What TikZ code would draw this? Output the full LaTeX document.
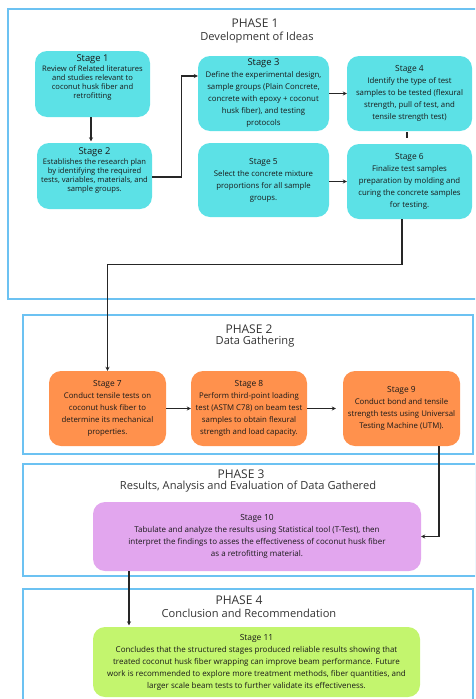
\documentclass[tikz,border=0pt]{standalone}
\usepackage{fontspec}
\setmainfont{Open Sans}
\usepackage{xcolor}
\usetikzlibrary{arrows.meta}

\definecolor{phaseblue}{HTML}{6CC2F2}
\definecolor{stagecyan}{HTML}{5CE1E6}
\definecolor{stageorange}{HTML}{FF914D}
\definecolor{stagepurple}{HTML}{E2A6EE}
\definecolor{stagegreen}{HTML}{C3F56E}

\newcommand{\stagehead}[1]{{\fontsize{9.4}{11}\selectfont #1}}
\newcommand{\smallhead}[1]{{\fontsize{8.4}{11}\selectfont #1}}

\begin{document}
\begin{tikzpicture}[x=1pt,y=-1pt,
    phase/.style={draw=phaseblue,line width=1.3pt},
    phasetitle/.style={font=\fontsize{12}{14}\selectfont,text=black!80},
    phasesub/.style={font=\fontsize{11.1}{13}\selectfont,text=black!80},
    stagebox/.style={rounded corners=12pt,align=center,inner sep=1pt,text=black!90},
    cyanbox/.style={stagebox,fill=stagecyan},
    orangebox/.style={stagebox,fill=stageorange,font=\fontsize{7.8}{12}\selectfont},
    arr/.style={draw=black!85,line width=1.1pt,-{Stealth[length=4pt,width=4pt]}},
    link/.style={draw=black!85,line width=1.1pt}]

    \useasboundingbox (0,0) rectangle (475,699);
    \clip (0,0) rectangle (475,699);

    % phase frames
    \draw[phase] (8,9) rectangle (480,299);
    \draw[phase] (23,315) rectangle (473,454);
    \draw[phase] (23,464) rectangle (476,576);
    \draw[phase] (23,589) rectangle (473,720);

    \node[phasetitle] (ph1) at (255,23) {PHASE 1};
    \node[phasesub] (ph1sub) at (257,38) {Development of Ideas};
    \node[phasetitle] (ph2) at (249,329) {PHASE 2};
    \node[phasesub] (ph2sub) at (255,342) {Data Gathering};
    \node[phasetitle] (ph3) at (241,474) {PHASE 3};
    \node[phasesub] (ph3sub) at (248,487) {Results, Analysis and Evaluation of Data Gathered};
    \node[phasetitle] (ph4) at (239,600) {PHASE 4};
    \node[phasesub] (ph4sub) at (249,613) {Conclusion and Recommendation};

    % phase 1
    \node[cyanbox,minimum width=115pt,minimum height=66pt,font=\fontsize{7.6}{9}\selectfont] (s1) at (92.5,84)
        {\stagehead{Stage 1}\\[1pt]Review of Related literatures\\and studies relevant to\\coconut husk fiber and\\retrofitting\\[6pt]};
    \node[cyanbox,minimum width=115pt,minimum height=66pt,font=\fontsize{7.6}{9}\selectfont] (s2) at (94.5,176)
        {\stagehead{Stage 2}\\[1pt]Establishes the research plan\\by identifying the required\\tests, variables, materials, and\\sample groups.\\[4pt]};
    \node[cyanbox,minimum width=131pt,minimum height=75pt,font=\fontsize{7.8}{12}\selectfont] (s3) at (263.5,93.5)
        {\stagehead{Stage 3}\\Define the experimental design,\\sample groups (Plain Concrete,\\concrete with epoxy + coconut\\husk fiber), and testing\\protocols};
    \node[cyanbox,minimum width=125pt,minimum height=75pt,font=\fontsize{7.8}{12}\selectfont] (s4) at (409.5,93.5)
        {\smallhead{Stage 4}\\Identify the type of test\\samples to be tested (flexural\\strength, pull of test, and\\tensile strength test)};
    \node[cyanbox,minimum width=131pt,minimum height=74pt,font=\fontsize{7.8}{12}\selectfont] (s5) at (263.5,180)
        {\smallhead{Stage 5}\\Select the concrete mixture\\proportions for all sample\\groups.};
    \node[cyanbox,minimum width=125pt,minimum height=75pt,font=\fontsize{7.8}{12}\selectfont] (s6) at (409.5,181.5)
        {\smallhead{Stage 6}\\Finalize test samples\\preparation by molding and\\curing the concrete samples\\for testing.};

    % phase 2
    \node[orangebox,minimum width=117pt,minimum height=75pt] (s7) at (107.5,408.5)
        {\smallhead{Stage 7}\\Conduct tensile tests on\\coconut husk fiber to\\determine its mechanical\\properties.};
    \node[orangebox,minimum width=116pt,minimum height=75pt] (s8) at (249,408.5)
        {\smallhead{Stage 8}\\Perform third-point loading\\test (ASTM C78) on beam test\\samples to obtain flexural\\strength and load capacity.};
    \node[orangebox,minimum width=117pt,minimum height=75pt] (s9) at (401.5,408.5)
        {\smallhead{Stage 9}\\Conduct bond and tensile\\strength tests using Universal\\Testing Machine (UTM).};

    % phase 3 and 4
    \node[stagebox,fill=stagepurple,minimum width=328pt,minimum height=69pt,font=\fontsize{8}{12}\selectfont] (s10) at (257,536.5)
        {\smallhead{Stage 10}\\Tabulate and analyze the results using Statistical tool (T-Test), then\\interpret the findings to asses the effectiveness of coconut husk fiber\\as a retrofitting material.};
    \node[stagebox,fill=stagegreen,minimum width=327pt,minimum height=70pt,font=\fontsize{8}{12}\selectfont] (s11) at (256.5,662)
        {\smallhead{Stage 11}\\Concludes that the structured stages produced reliable results showing that\\treated coconut husk fiber wrapping can improve beam performance. Future\\work is recommended to explore more treatment methods, fiber quantities, and\\larger scale beam tests to further validate its effectiveness.};

    % connectors
    \draw[arr] ([xshift=-1.5pt]s1.south) -- ([xshift=-1.5pt,yshift=1.5pt]s1.south |- s2.north);
    \draw[arr] ([yshift=-1pt]s2.east) -- ++(29,0) |- ([yshift=17.5pt]s3.west);
    \draw[arr] (s3.east) -- (s4.west);
    \draw[link] ([xshift=-2.5pt,yshift=-1pt]s4.south) -- ([xshift=-2.5pt,yshift=-7pt]s4.south);
    \draw[arr] ([yshift=-1.5pt]s5.east) -- ([yshift=-1.5pt]s5.east -| s6.west);
    \draw[arr] ([xshift=-7.5pt]s6.south) -- ++(0,45) -| (s7.north);
    \draw[arr] (s7.east) -- (s8.west);
    \draw[arr,shorten >=7pt] (s8.east) -- (s9.west);
    \draw[arr] ([xshift=37.5pt]s9.south) |- (s10.east);
    \draw[arr] ([xshift=-128pt]s10.south) -- ([xshift=-128pt,yshift=1.5pt]s10.south |- s11.north);
\end{tikzpicture}
\end{document}
